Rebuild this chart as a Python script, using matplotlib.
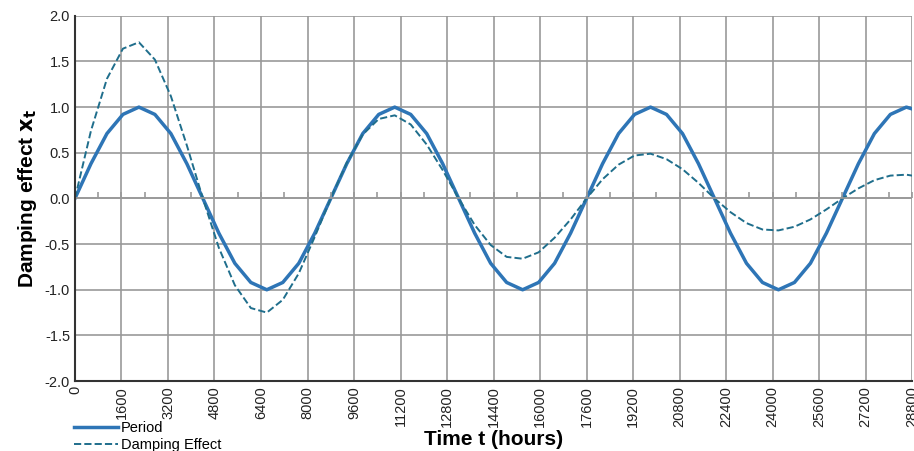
import numpy as np
import matplotlib.pyplot as plt
from matplotlib.ticker import MultipleLocator

plt.rcParams['font.family'] = ['Liberation Sans', 'DejaVu Sans']

# time samples, every 550 hours
step = 550
period = [0, .38, .71, .92, 1, .92, .71, .38, 0, -.38, -.71, -.92, -1, -.92, -.71, -.38,
          0, .38, .71, .92, 1, .92, .71, .38, 0, -.38, -.71, -.92, -1, -.92, -.71, -.38,
          0, .38, .71, .92, 1, .92, .71, .38, 0, -.38, -.71, -.92, -1, -.92, -.71, -.38,
          0, .38, .71, .92, 1]
damping = [0, 0.74, 1.31, 1.64, 1.71, 1.52, 1.12, 0.58, 0, -0.54, -0.95, -1.20, -1.25, -1.11, -0.82, -0.42,
           0, 0.39, 0.70, 0.87, 0.91, 0.81, 0.59, 0.31, 0, -0.29, -0.51, -0.64, -0.66, -0.59, -0.43, -0.23,
           0, 0.21, 0.37, 0.47, 0.49, 0.43, 0.32, 0.17, 0, -0.15, -0.27, -0.34, -0.35, -0.31, -0.23, -0.12,
           0, 0.11, 0.20, 0.25, 0.26]
t = np.arange(len(period)) * step
t_end, period_end, damping_end = 28800, 0.98, 0.25

t_all = np.append(t, t_end)
p_all = np.append(period, period_end)
d_all = np.append(damping, damping_end)

fig = plt.figure(figsize=(9.14, 4.51), dpi=100)
ax = fig.add_axes([0.082, 0.155, 0.916, 0.81])
ax.plot(t_all, p_all, color='#2E75B6', lw=2.5, label='Period', solid_joinstyle='round')
ax.plot(t_all, d_all, color='#1F6E8C', lw=1.4, ls='--', label='Damping Effect')

ax.set_xlim(0, 28800)
ax.set_ylim(-2, 2)
ax.xaxis.set_major_locator(MultipleLocator(1600))
ax.yaxis.set_major_locator(MultipleLocator(0.5))
ax.yaxis.set_major_formatter(plt.FormatStrFormatter('%.1f'))
ax.grid(True, color='#999999', lw=1.2)
ax.axhline(0, color='#999999', lw=1.2)
minor = np.arange(0, 28801, 800)
ax.plot(minor, np.zeros_like(minor), ls='none', marker=2, color='#999999', ms=4, mew=1.2, clip_on=False)
for s in ['top', 'right']:
    ax.spines[s].set_visible(False)
for s in ['left', 'bottom']:
    ax.spines[s].set_color('#333333')
    ax.spines[s].set_linewidth(1.5)
ax.tick_params(axis='both', length=0, labelsize=10.5, colors='#222222')
ax.tick_params(axis='x', labelrotation=90)
ax.set_xlabel('Time t (hours)', fontsize=15, fontweight='bold', labelpad=2)
ax.set_ylabel(r'Damping effect $\mathbf{x_t}$', fontsize=15, fontweight='bold')
ax.legend(loc='upper left', bbox_to_anchor=(-0.01, -0.09), frameon=False, fontsize=10.5,
          handlelength=3, borderpad=0, labelspacing=0.2, handletextpad=0.2)
fig.savefig('out.png', dpi=100)
